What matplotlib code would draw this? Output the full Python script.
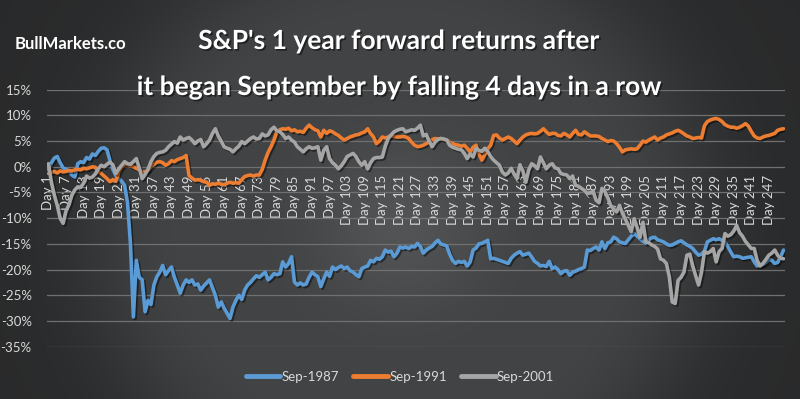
import numpy as np
import matplotlib
matplotlib.use("Agg")
import matplotlib.pyplot as plt
import matplotlib.patheffects as pe

# daily returns (%) after day 0
sep_1987 = [
    -0.5, 0.8, 1.7, 2.0, 0.8, -0.2, -0.5, -0.8, -1.6, -2.0, 0.6, 1.0,
    0.8, 1.8, 1.5, 2.5, 2.2, 3.0, 3.6, 3.7, 3.3, 1.2, -0.5, -1.7,
    -2.4, -2.8, -3.6, -7.0, -15.0, -29.2, -18.2, -21.5, -22.0, -28.2, -26.0, -26.8,
    -23.0, -21.4, -20.5, -19.2, -21.0, -20.2, -19.5, -21.5, -23.0, -24.6, -23.0, -22.0,
    -22.5, -22.0, -23.0, -22.8, -24.0, -23.2, -22.6, -22.0, -23.5, -25.0, -27.3, -26.3,
    -27.5, -28.5, -29.5, -27.3, -26.0, -25.0, -25.8, -24.0, -23.0, -22.5, -21.8, -21.2,
    -21.5, -21.0, -20.5, -22.0, -21.5, -20.8, -21.0, -20.8, -18.5, -19.5, -18.8, -17.5,
    -22.4, -23.0, -22.6, -23.0, -22.8, -21.5, -20.5, -21.0, -21.4, -23.3, -21.8, -20.5,
    -21.3, -19.5, -20.0, -19.6, -19.3, -19.8, -19.5, -20.2, -20.5, -21.0, -21.4, -19.8,
    -19.5, -19.3, -18.2, -18.5, -17.8, -18.0, -17.5, -16.2, -16.6, -16.4, -17.5, -16.8,
    -15.6, -15.8, -15.6, -15.9, -15.5, -15.6, -14.9, -15.5, -16.8, -16.2, -15.8, -15.5,
    -14.8, -14.3, -15.0, -15.2, -15.4, -17.0, -18.2, -18.8, -18.4, -18.6, -18.4, -19.3,
    -18.5, -16.2, -15.8, -15.0, -14.9, -14.6, -14.3, -17.9, -17.8, -18.0, -18.2, -18.4,
    -18.6, -18.8, -17.8, -17.2, -16.8, -16.5, -17.2, -17.0, -16.8, -17.5, -18.4, -18.8,
    -19.3, -19.2, -19.4, -18.4, -19.8, -19.5, -20.0, -20.8, -20.3, -20.2, -21.1, -20.5,
    -20.3, -20.0, -19.8, -19.5, -16.2, -16.3, -15.9, -15.6, -16.2, -14.6, -15.9, -14.8,
    -14.6, -13.7, -14.0, -14.6, -14.8, -14.9, -14.2, -13.5, -13.0, -13.5, -14.0, -14.5,
    -14.9, -14.2, -13.8, -13.7, -14.2, -14.4, -14.6, -15.0, -15.3, -15.2, -14.9, -14.6,
    -14.4, -14.8, -15.2, -15.5, -15.9, -16.6, -17.2, -17.0, -16.4, -14.6, -14.3, -14.0,
    -14.2, -14.0, -14.3, -14.6, -15.5, -16.6, -17.5, -17.4, -17.5, -17.8, -17.7, -17.6,
    -17.5, -18.5, -19.3, -19.0, -19.0, -18.6, -18.0, -18.2, -18.8, -18.6, -17.5, -16.2,
]

sep_1991 = [
    -1.3, -1.1, -0.9, -1.2, -0.8, -1.0, -0.9, -0.7, -0.8, -0.6, -0.5, -0.6,
    -0.3, -0.4, -0.2, 0.0, -0.1, -1.0, -1.3, -1.8, -2.3, -2.9, -2.5, -2.8,
    -1.0, 0.0, 0.4, 0.6, 0.2, 0.0, -0.3, -0.6, -1.0, -1.0, -0.7, 0.0,
    0.5, 0.9, 1.0, 0.8, 0.3, 0.6, 1.2, 1.0, 1.4, 1.6, 1.8, 2.2,
    -1.7, -2.2, -2.6, -2.5, -2.6, -2.9, -3.0, -3.6, -3.3, -3.4, -3.2, -3.4,
    -3.5, -3.2, -3.0, -3.2, -3.1, -3.2, -2.5, -1.9, -1.7, -1.6, -1.8, -1.6,
    -1.6, -0.5, 1.3, 2.8, 3.9, 5.2, 6.8, 7.2, 7.4, 7.3, 7.5, 7.0,
    7.2, 6.8, 6.9, 6.7, 7.5, 8.1, 7.6, 7.2, 7.0, 5.8, 7.1, 6.5,
    7.0, 6.8, 6.4, 6.1, 5.6, 5.2, 5.5, 5.8, 6.0, 6.2, 6.3, 6.6,
    6.8, 7.4, 6.5, 5.8, 4.5, 5.0, 5.8, 5.6, 5.8, 6.1, 5.9, 5.8,
    5.8, 5.9, 5.8, 5.5, 4.8, 4.2, 3.9, 4.0, 4.2, 4.5, 4.9, 5.3,
    5.5, 5.4, 5.5, 5.3, 5.2, 4.8, 4.5, 4.3, 4.2, 4.0, 4.2, 3.6,
    2.9, 3.8, 4.2, 2.5, 1.3, 2.4, 3.5, 4.2, 6.1, 6.2, 5.6, 5.2,
    5.5, 5.8, 5.5, 5.0, 4.5, 5.2, 5.8, 6.2, 6.4, 6.5, 6.4, 6.5,
    6.9, 7.4, 6.8, 6.3, 6.5, 6.5, 6.1, 6.0, 6.5, 6.2, 5.8, 6.5,
    7.1, 6.3, 6.2, 6.8, 6.4, 6.0, 6.0, 6.0, 5.9, 5.5, 5.2, 4.9,
    5.1, 5.0, 4.5, 3.8, 2.9, 3.3, 3.4, 3.5, 3.4, 3.5, 4.2, 5.0,
    4.8, 5.2, 5.5, 5.8, 5.2, 5.6, 5.8, 6.2, 6.4, 6.6, 6.9, 7.1,
    6.8, 6.4, 6.0, 5.8, 5.5, 5.6, 5.7, 5.6, 8.0, 8.8, 9.1, 9.3,
    9.4, 9.2, 8.8, 8.2, 7.9, 7.7, 7.7, 7.5, 7.7, 8.0, 8.4, 7.9,
    6.9, 6.0, 5.6, 5.5, 5.8, 6.0, 6.1, 6.3, 6.5, 7.1, 7.3, 7.4,
]

sep_2001 = [
    0.6, -3.0, -5.5, -7.5, -10.0, -11.0, -8.6, -7.4, -5.5, -4.5, -3.9, -4.0,
    -3.2, -1.8, -2.2, -2.0, -1.4, -0.4, 0.3, 0.0, 0.5, 0.9, 0.4, -1.3,
    -0.4, 0.3, 1.0, 0.6, 0.5, 1.0, 1.6, -0.2, -2.3, -1.5, -0.5, 1.0,
    2.0, 2.6, 2.8, 2.9, 3.2, 3.9, 4.4, 4.9, 4.6, 5.8, 5.2, 5.5,
    5.7, 5.2, 4.5, 5.0, 5.3, 3.9, 4.5, 5.2, 6.5, 7.4, 6.0, 5.0,
    3.9, 3.6, 3.4, 2.9, 3.5, 4.0, 4.9, 4.5, 5.0, 5.5, 5.8, 5.4,
    5.5, 6.4, 6.0, 6.2, 7.2, 7.7, 7.0, 6.8, 6.3, 5.5, 5.8, 5.2,
    4.8, 3.9, 3.4, 2.9, 3.5, 3.9, 3.6, 3.7, 3.9, 1.3, 3.2, 3.9,
    1.6, 0.8, 0.3, -0.4, 0.2, 1.0, 2.0, 2.3, 2.6, 2.0, 1.0, 0.3,
    1.0, -0.4, 0.8, 1.6, 1.8, 1.8, 1.9, 4.0, 5.5, 6.2, 6.8, 7.1,
    7.3, 7.4, 6.8, 7.0, 7.2, 7.1, 7.5, 8.1, 6.0, 6.3, 5.0, 3.9,
    4.8, 5.3, 5.5, 5.4, 5.2, 4.2, 3.8, 3.6, 3.4, 3.3, 2.6, 1.6,
    2.5, 1.9, 3.6, 3.2, 3.0, 3.6, 3.0, 2.0, 1.3, 0.8, 0.3, -1.0,
    -1.6, -1.2, -0.3, -1.4, -2.3, 0.4, -0.8, -3.0, -0.6, 0.6, 0.2, -0.4,
    1.9, 0.8, -0.4, 0.3, 0.6, -0.2, -0.4, -1.3, -1.5, -1.6, -2.3, -1.8,
    -3.6, -3.8, -4.2, -4.6, -5.2, -5.0, -4.8, -6.5, -7.0, -4.2, -4.8, -6.0,
    -7.5, -8.2, -8.8, -7.5, -9.0, -10.2, -11.4, -12.6, -10.1, -11.8, -13.7, -10.8,
    -14.6, -14.8, -15.2, -15.5, -16.0, -17.9, -18.2, -18.8, -21.4, -26.3, -26.6, -22.1,
    -21.5, -20.5, -17.2, -17.0, -19.3, -21.2, -23.0, -20.5, -16.5, -16.8, -16.5, -15.9,
    -18.5, -16.5, -15.9, -13.0, -13.5, -13.2, -12.5, -11.4, -12.8, -13.5, -14.5, -15.2,
    -15.9, -15.9, -18.2, -19.3, -18.8, -18.0, -17.2, -16.8, -16.2, -17.2, -17.8, -17.9,
]

series_names = ["Sep-1987", "Sep-1991", "Sep-2001"]
series_colors = ["#5b9bd5", "#ed7d31", "#a5a5a5"]
y_ticks = list(range(-35, 20, 5))

plt.rcParams['font.family'] = ['Lato', 'DejaVu Sans']

fig = plt.figure(figsize=(8, 3.99), dpi=100)

# dark radial background with faint rings
bg = fig.add_axes([0, 0, 1, 1], zorder=-10)
yy, xx = np.mgrid[0:399, 0:800]
r = np.hypot(xx - 400, (yy - 225) * 1.05)
base = 80 - 42 * (r / 460) ** 1.3
rings = 4 * np.cos(r / 38.0)
lum = np.clip(base + rings, 20, 100) / 255.0
img = np.dstack([lum * 0.98, lum, lum * 1.02])
bg.imshow(np.clip(img, 0, 1), aspect='auto', extent=[0, 1, 0, 1])
bg.axis('off')

ax = fig.add_axes([47 / 800, 1 - 346.7 / 399, 738 / 800, 257 / 399])
ax.patch.set_alpha(0)

for vals, name, col in zip([sep_1987, sep_1991, sep_2001], series_names, series_colors):
    days = np.arange(1, len(vals) + 1)
    ax.plot(days, vals, color=col, lw=2.6, label=name, solid_capstyle='round',
            path_effects=[pe.SimpleLineShadow(offset=(1.2, -1.2), shadow_color='black', alpha=0.45),
                          pe.Normal()])

n_days = len(sep_1987)
ax.spines['bottom'].set_position(('data', 0))
for s in ax.spines.values():
    s.set_visible(False)

ax.set_xlim(0.5, n_days + 0.5)
ax.set_ylim(-35, 15)
ax.set_yticks(y_ticks)
ax.set_yticklabels([f"{t}%" for t in y_ticks])
tick_days = list(range(1, n_days + 1, 6))
ax.set_xticks(tick_days)
ax.set_xticklabels([f"Day {d}" for d in tick_days])

ax.tick_params(axis='x', length=0, pad=6, labelsize=9.5, labelcolor='#d9d9d9', labelrotation=90)
ax.tick_params(axis='y', length=0, pad=11, labelsize=9.5, labelcolor='#d9d9d9')
ax.grid(axis='y', color='#707070', lw=0.9)
ax.set_axisbelow(True)

shadow = [pe.withSimplePatchShadow(offset=(1.2, -1.2), shadow_rgbFace='black', alpha=0.5)]
fig.text(0.498, 1 - 41 / 399, "S&P's 1 year forward returns after", ha='center', va='center',
         color='white', fontsize=19, fontweight='bold', path_effects=shadow)
fig.text(0.498, 1 - 87 / 399, "it began September by falling 4 days in a row", ha='center', va='center',
         color='white', fontsize=19, fontweight='bold', path_effects=shadow)
fig.text(15 / 800, 1 - 44 / 399, "BullMarkets.co", ha='left', va='center',
         color='white', fontsize=12, fontweight='bold')

leg = fig.legend(loc='center', bbox_to_anchor=(0.5, 1 - 377 / 399), ncol=3, frameon=False,
                 fontsize=9.5, handlelength=2.6, handletextpad=0.1, columnspacing=1.1,
                 labelcolor='#d9d9d9')
for h in leg.get_lines():
    h.set_linewidth(3.5)
    h.set_path_effects([])

fig.savefig("out.png", dpi=100)
